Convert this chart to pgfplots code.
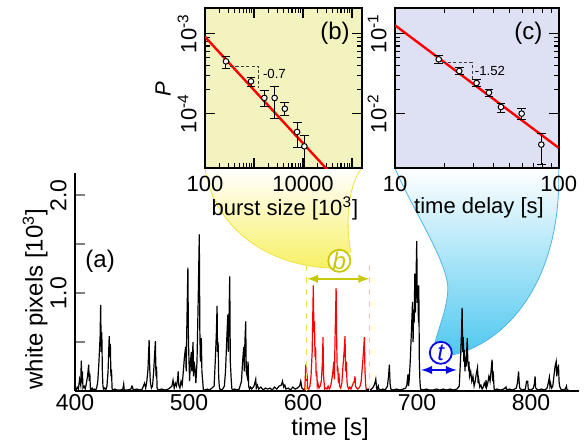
\documentclass[border=0pt]{standalone}
\usepackage{fontspec}
\setmainfont{Liberation Sans}
\usepackage{pgfplots}
\pgfplotsset{compat=1.18}
\definecolor{byel}{RGB}{243,243,192}
\definecolor{cblu}{RGB}{222,224,244}
\definecolor{funy}{RGB}{248,240,100}
\definecolor{edgy}{RGB}{238,226,70}
\definecolor{funb}{RGB}{80,200,240}
\definecolor{edgb}{RGB}{80,180,230}
\definecolor{bcol}{RGB}{200,200,10}
\definecolor{dcol}{RGB}{240,220,90}
\definecolor{tblu}{RGB}{10,10,230}

\begin{document}
\fontsize{12}{14}\selectfont
\begin{tikzpicture}
\useasboundingbox (0,0) rectangle (292pt,222.5pt);

% funnels behind everything
\shade[top color=white, middle color=funy!20!white, bottom color=funy]
  (102.5pt,138.5pt) .. controls (106pt,112pt) and (130pt,90pt) .. (165pt,88.5pt)
  -- (175.5pt,96.5pt) .. controls (173pt,108pt) and (173pt,128pt) .. (180.85pt,138.5pt) -- cycle;
\draw[edgy, line width=0.4pt] (102.5pt,138.5pt) .. controls (106pt,112pt) and (130pt,90pt) .. (165pt,88.5pt);
\draw[edgy, line width=0.4pt] (175.5pt,96.5pt) .. controls (173pt,108pt) and (173pt,128pt) .. (180.85pt,138.5pt);

\shade[top color=white, middle color=white, bottom color=funb]
  (197.5pt,138.5pt) .. controls (205pt,120pt) and (222pt,95pt) .. (223.85pt,80pt)
  .. controls (224.5pt,70pt) and (219pt,58pt) .. (217.5pt,51pt)
  -- (226pt,45pt) .. controls (250pt,50pt) and (281pt,78pt) .. (279.35pt,138.5pt) -- cycle;
\draw[edgb, line width=0.4pt] (197.5pt,138.5pt) .. controls (205pt,120pt) and (222pt,95pt) .. (223.85pt,80pt)
  .. controls (224.5pt,70pt) and (219pt,58pt) .. (217.5pt,51pt);
\draw[edgb, line width=0.4pt] (226pt,45pt) .. controls (250pt,50pt) and (281pt,78pt) .. (279.35pt,138.5pt);

% (a) main time series
\begin{axis}[
  at={(37.5pt,27pt)}, anchor=south west, scale only axis,
  width=252pt, height=109.15pt,
  xmin=400, xmax=842, ymin=0, ymax=2.23,
  axis lines*=left, axis line style={line width=1pt},
  tick align=inside, major tick length=5pt,
  tick label style={font=\fontsize{11.5}{13}\selectfont},
  label style={font=\fontsize{12}{14}\selectfont},
  xtick={400,500,600,700,800}, xticklabels={400,500,600,700,800},
  xticklabel style={yshift=2.5pt},
  xtick style={draw=none},
  ytick={0.5,1,1.5,2}, yticklabels={,1.0,,2.0},
  ytick style={line width=1pt},
  yticklabel style={rotate=90, anchor=south},
  xlabel={time [s]}, ylabel={white pixels [10\textsuperscript{3}]},
  xlabel style={at={(axis description cs:0.506,-0.205)}, anchor=base},
  ylabel style={at={(axis description cs:-0.079,0.42)}, anchor=center},
  clip=false,
]
\addplot[black, line width=0.6pt] coordinates {
(400,0.02) (401,0.01) (402,0.04) (403,0.02) (404,0.12) (405,0.06) (405.5,0.31) (406,0.08) (406.5,0.2) (407,0.03)
(408,0.05) (409,0.02) (410,0.08) (411,0.15) (412,0.27) (412.5,0.1) (413,0.18) (413.5,0.02) (414,0.01) (415,0.03)
(416,0.01) (417,0.02) (418,0.01) (419,0.03) (420,0.1) (421,0.3) (422,0.55) (422.5,0.88) (423,0.4) (423.5,0.6)
(424,0.2) (424.5,0.05) (425,0.02) (426,0.03) (427,0.01) (428,0.05) (429,0.2) (430,0.56) (430.5,0.35) (431,0.48)
(431.5,0.15) (432,0.22) (432.5,0.03) (433,0.01) (435,0.02) (437,0.01) (440,0.01) (442,0.02) (442.7,0.07) (443.2,0.01)
(446,0.01) (449,0.02) (450,0.05) (450.5,0.04) (451,0.01) (454,0.02) (457,0.01) (459,0.02) (460,0.05) (461,0.08)
(462,0.03) (463,0.1) (464,0.22) (465,0.52) (465.5,0.25) (466,0.1) (467,0.03) (468,0.05) (469,0.2) (470.5,0.51)
(471,0.15) (471.5,0.25) (472,0.03) (473,0.01) (476,0.02) (479,0.01) (482,0.02) (485,0.05) (486,0.11) (487,0.03)
(488,0.08) (489,0.05) (490,0.12) (490.5,0.2) (491,0.06) (492,0.03) (493,0.1) (494,0.06) (495,0.2) (496,0.35)
(497,0.45) (497.5,0.2) (498,0.6) (499,1.26) (499.5,0.5) (500,0.3) (500.5,0.1) (501,0.25) (502,0.4) (502.5,0.2)
(503.5,0.5) (504,0.15) (504.5,0.3) (505.5,0.2) (506,0.08) (507,0.3) (508,0.9) (509,1.6) (509.5,0.6) (510,0.3)
(510.8,0.54) (511.3,0.2) (512,0.1) (512.5,0.02) (513,0.01) (514,0.01) (516,0.02) (518,0.01) (520,0.03) (522,0.05)
(523,0.3) (524,0.6) (524.6,0.87) (525,0.4) (525.5,0.5) (526,0.15) (526.5,0.05) (527,0.02) (529,0.01) (531,0.05)
(532,0.2) (533,0.5) (534,0.78) (534.5,0.4) (535,0.7) (535.7,1.17) (536.2,0.3) (537,0.12) (537.5,0.03) (538,0.01)
(540,0.02) (542,0.01) (544,0.02) (546,0.1) (547,0.3) (548,0.45) (548.5,0.2) (549,0.5) (549.7,0.71) (550.2,0.2)
(551,0.15) (551.8,0.3) (552.3,0.05) (553,0.02) (554,0.04) (555,0.02) (557,0.05) (558.5,0.12) (559,0.03) (560,0.06)
(561,0.02) (563,0.04) (565,0.01) (567,0.03) (569,0.02) (571,0.03) (573,0.01) (575,0.04) (577,0.02) (579,0.05)
(581,0.06) (582,0.1) (583,0.04) (584,0.06) (585,0.02) (587,0.03) (589,0.01) (591,0.04) (593,0.02) (595,0.03)
(597,0.05) (598,0.1) (599,0.03) (600,0.02) (601.5,0.01)
};
\addplot[red, line width=0.6pt] coordinates {
(601.5,0.01) (602,0.15) (602.4,0.27) (603,0.1) (603.5,0.18) (604,0.03) (605,0.02) (606,0.05) (607,0.15) (608,0.4)
(608.5,0.75) (609,1.08) (609.5,0.6) (610,0.71) (610.5,0.35) (611,0.45) (611.5,0.15) (612,0.2) (612.5,0.05) (613,0.08)
(614,0.03) (615,0.05) (616,0.1) (617,0.3) (617.5,0.55) (618,0.15) (618.5,0.08) (619,0.02) (620,0.03) (621,0.02)
(622,0.05) (623,0.02) (624,0.04) (625,0.1) (626,0.18) (627,0.3) (627.5,0.12) (628,0.5) (629,1.05) (629.5,0.5)
(630,0.2) (630.5,0.25) (631,0.08) (631.5,0.18) (632,0.05) (633,0.03) (634,0.08) (635,0.25) (636,0.4) (636.8,0.56)
(637.3,0.2) (638,0.3) (638.5,0.1) (639,0.05) (640,0.02) (641,0.04) (642,0.02) (643,0.05) (644,0.08) (645,0.1)
(645.6,0.15) (646,0.05) (647,0.03) (648,0.02) (649,0.03) (650,0.05) (651,0.1) (652,0.25) (653,0.4) (653.8,0.55)
(654.3,0.2) (655,0.05) (655.5,0.01)
};
\addplot[black, line width=0.6pt] coordinates {
(655.5,0.01) (657,0.02) (659,0.01) (661,0.03) (662,0.05) (663,0.08) (663.8,0.12) (664.5,0.03) (665,0.01) (666,0.05)
(666.5,0.02) (668,0.01) (670,0.02) (672,0.01) (674,0.05) (675,0.15) (675.7,0.27) (676.3,0.08) (677,0.02) (679,0.01)
(682,0.02) (685,0.01) (688,0.02) (690,0.03) (691,0.06) (692,0.17) (692.5,0.05) (693,0.1) (694,0.3) (695,0.6)
(696,0.91) (696.5,0.5) (697,0.83) (697.5,0.7) (698,1.2) (698.5,0.8) (699,1.1) (699.7,1.53) (700.2,0.9) (700.7,1.08)
(701.2,0.7) (701.5,1.08) (702,0.3) (702.5,0.1) (703,0.02) (705,0.01) (708,0.02) (711,0.01) (714,0.01) (717,0.02)
(720,0.01) (723,0.02) (726,0.01) (729,0.02) (732,0.01) (735,0.02) (737,0.05) (738,0.3) (739,0.6) (739.5,0.85)
(740,0.4) (740.5,0.55) (741,0.3) (741.5,0.42) (742,0.2) (742.5,0.35) (743,0.25) (744,0.54) (744.5,0.3) (745,0.25)
(745.5,0.3) (746,0.15) (747,0.2) (748,0.1) (749,0.15) (750,0.05) (751,0.1) (752,0.18) (753,0.24) (753.5,0.08)
(754,0.12) (755,0.04) (756,0.06) (757,0.02) (758,0.04) (759,0.08) (760,0.05) (760.5,0.11) (761,0.04) (762,0.08)
(763,0.15) (764,0.1) (765,0.22) (765.8,0.32) (766.3,0.1) (767,0.15) (767.5,0.03) (768,0.01) (770,0.02) (773,0.01)
(776,0.02) (778,0.04) (778.5,0.01) (781,0.02) (784,0.01) (787,0.03) (788,0.08) (789,0.2) (789.5,0.1) (790,0.03)
(792,0.01) (795,0.02) (796,0.1) (797,0.1) (797.5,0.02) (800,0.01) (802,0.03) (803,0.08) (803.5,0.15) (804,0.03)
(806,0.01) (809,0.02) (812,0.01) (814,0.03) (815,0.08) (816,0.14) (816.5,0.05) (817,0.08) (818,0.03) (819,0.05)
(820,0.15) (821,0.25) (822,0.3) (822.5,0.15) (823,0.2) (824,0.27) (824.5,0.1) (825,0.05) (826,0.02) (828,0.01)
(830,0.02) (831,0.05) (831.5,0.01) (833,0.01)
};
\node[font=\fontsize{12}{14}\selectfont] at (axis cs:422,1.32) {(a)};
% burst window b
\draw[dcol, dashed, line width=0.5pt] (axis cs:602.9,0) -- (axis cs:602.9,1.34);
\draw[dcol, dashed, line width=0.5pt] (axis cs:658.7,0) -- (axis cs:658.7,1.34);
\draw[bcol, line width=0.9pt, <->, >=latex] (axis cs:603.5,1.146) -- (axis cs:658.1,1.146);
\node[circle, draw=bcol, line width=0.9pt, fill=white, inner sep=0pt, minimum size=11pt,
      text=bcol, font=\fontsize{12}{14}\selectfont\itshape] at (axis cs:631.8,1.33) {b};
% delay t
\draw[tblu, line width=0.9pt, <->, >=latex] (axis cs:703.5,0.215) -- (axis cs:734.8,0.215);
\node[circle, draw=tblu, line width=0.9pt, fill=white, inner sep=0pt, minimum size=11pt,
      text=tblu, font=\fontsize{12}{14}\selectfont\itshape] at (axis cs:720.8,0.39) {t};
\end{axis}

% (b) burst size distribution
\begin{axis}[
  at={(102.5pt,138.5pt)}, anchor=south west, scale only axis,
  width=78.35pt, height=80pt,
  xmode=log, ymode=log,
  xmin=100, xmax=158489, ymin=2.09e-5, ymax=2.09e-3,
  axis background/.style={fill=byel},
  axis line style={line width=1pt},
  tick align=inside, major tick length=5pt, minor tick length=2.5pt,
  every tick/.style={black, line width=0.6pt},
  tick label style={font=\fontsize{11}{13}\selectfont},
  label style={font=\fontsize{11}{13}\selectfont},
  xtick={100,1000,10000,100000}, xticklabels={100,,10000,},
  ytick={1e-4,1e-3}, yticklabels={10\textsuperscript{-4},10\textsuperscript{-3}},
  yticklabel style={rotate=90, anchor=south},
  xlabel={burst size [10\textsuperscript{3}]}, ylabel={\itshape P},
  xlabel style={at={(axis description cs:0.51,-0.25)}, anchor=center},
  ylabel style={at={(axis description cs:-0.268,0.49)}, anchor=center},
]
\addplot[red, line width=1.2pt] coordinates {(100,9.12e-4) (158489,6.8e-6)};
\addplot[black!75, dash pattern=on 1.6pt off 1.1pt, line width=0.4pt] coordinates {(324,3.89e-4) (1259,3.89e-4) (1259,2.09e-4)};
\addplot[only marks, mark=*, mark size=1.4pt,
  mark options={fill=white, draw=black, line width=0.5pt},
  error bars/.cd, y dir=both, y explicit,
  error bar style={black, line width=0.5pt},
  error mark options={rotate=90, mark size=2.2pt, black, line width=0.5pt}]
coordinates {
(268,4.5e-4) += (0,0.75e-4) -= (0,0.87e-4)
(870,2.53e-4) += (0,0.29e-4) -= (0,0.34e-4)
(1630,1.57e-4) += (0,0.35e-4) -= (0,0.36e-4)
(2640,1.57e-4) += (0,0.62e-4) -= (0,0.70e-4)
(4270,1.15e-4) += (0,0.23e-4) -= (0,0.195e-4)
(7600,5.9e-5) += (0,1.95e-5) -= (0,2.1e-5)
(10700,3.9e-5) += (0,1.47e-5) -= (0,2.4e-5)
};
\node[font=\fontsize{6.6}{8}\selectfont] at (axis cs:2620,3.1e-4) {-0.7};
\node[font=\fontsize{12}{14}\selectfont] at (rel axis cs:0.83,0.84) {(b)};
\end{axis}

% (c) time delay distribution
\begin{axis}[
  at={(197.5pt,138.5pt)}, anchor=south west, scale only axis,
  width=81.85pt, height=80pt,
  xmode=log, ymode=log,
  xmin=10, xmax=100, ymin=2.09e-3, ymax=2.09e-1,
  axis background/.style={fill=cblu},
  axis line style={line width=1pt},
  tick align=inside, major tick length=5pt, minor tick length=2.5pt,
  every tick/.style={black, line width=0.6pt},
  tick label style={font=\fontsize{11}{13}\selectfont},
  label style={font=\fontsize{11}{13}\selectfont},
  xtick={10,100}, xticklabels={10,100},
  ytick={1e-2,1e-1}, yticklabels={10\textsuperscript{-2},10\textsuperscript{-1}},
  yticklabel style={rotate=90, anchor=south},
  xlabel={time delay [s]},
  xlabel style={at={(axis description cs:0.513,-0.25)}, anchor=center},
]
\addplot[red, line width=1.2pt] coordinates {(10,0.127) (100,0.00373)};
\addplot[black!75, dash pattern=on 1.6pt off 1.1pt, line width=0.4pt] coordinates {(19.5,0.0438) (29.5,0.0438) (29.5,0.0266)};
\addplot[only marks, mark=*, mark size=1.4pt,
  mark options={fill=white, draw=black, line width=0.5pt},
  error bars/.cd, y dir=both, y explicit,
  error bar style={black, line width=0.5pt},
  error mark options={rotate=90, mark size=2.2pt, black, line width=0.5pt}]
coordinates {
(18.5,0.0477) += (0,0.0060) -= (0,0.0055)
(24.7,0.0341) += (0,0.0031) -= (0,0.0032)
(31.5,0.0241) += (0,0.0025) -= (0,0.0022)
(37.5,0.0183) += (0,0.0017) -= (0,0.0021)
(44.4,0.0121) += (0,0.0014) -= (0,0.0019)
(59.4,0.0100) += (0,0.0015) -= (0,0.0016)
(78.3,0.0041) += (0,0.0015) -= (0,0.0018)
};
\node[font=\fontsize{6.6}{8}\selectfont] at (axis cs:38,0.0341) {-1.52};
\node[font=\fontsize{12}{14}\selectfont] at (rel axis cs:0.814,0.84) {(c)};
\end{axis}
\end{tikzpicture}
\end{document}
